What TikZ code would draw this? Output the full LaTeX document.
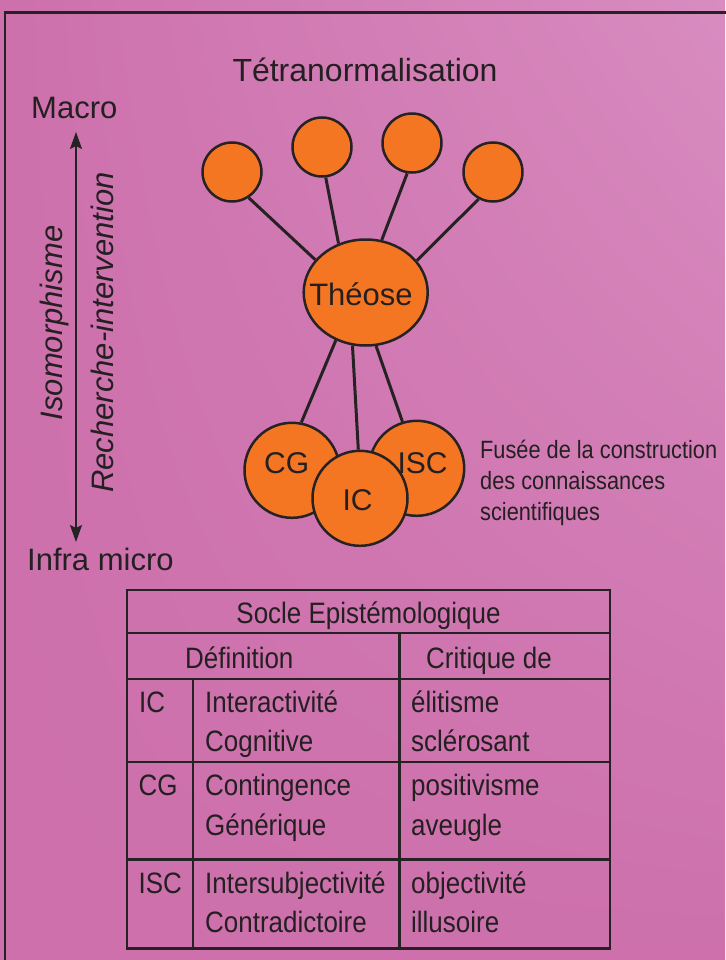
\documentclass[tikz,border=0pt]{standalone}
\usepackage{fontspec}
\setmainfont{Liberation Sans}
\newfontfamily\narrowfont[FakeStretch=0.87]{Liberation Sans}
\newfontfamily\tablefont[FakeStretch=0.88]{Liberation Sans}
\usetikzlibrary{arrows.meta,shapes.geometric,shadings}
\newcommand\fsz[1]{\fontsize{#1}{#1}\selectfont}
\definecolor{bgmain}{RGB}{205,112,172}
\definecolor{bglight}{RGB}{216,140,192}
\definecolor{orangec}{RGB}{244,118,34}
\definecolor{linec}{RGB}{38,34,36}
\definecolor{textc}{RGB}{36,32,34}
\tikzset{
  ball/.style={circle, draw=linec, fill=orangec, line width=2.5pt, inner sep=0pt, minimum size=59pt},
  bigball/.style={circle, draw=linec, fill=orangec, line width=2.5pt, inner sep=0pt, minimum size=95pt},
  conn/.style={draw=linec, line width=3pt},
  lbl/.style={inner sep=0pt, text=textc, font=\fsz{30}},
  side/.style={inner sep=0pt, text=textc, font=\fsz{31}\itshape, rotate=90, anchor=base},
  fusee/.style={inner sep=0pt, text=textc, font=\narrowfont\fsz{25}, anchor=base west},
  cell/.style={inner sep=0pt, text=textc, font=\tablefont\fsz{29.5}, anchor=base west},
  tbl/.style={draw=linec, line width=2.5pt},
}
\begin{document}
\begin{tikzpicture}[x=1pt,y=-1pt]
\useasboundingbox (0,0) rectangle (725,960);
\shade[upper left=bgmain, upper right=bglight, lower left=bgmain, lower right=bgmain] (0,0) rectangle (725,960);
\draw[linec, line width=2.2pt] (5,962) -- (5,12.5) -- (727,12.5);

% title
\node[lbl, font=\fsz{32}, anchor=base] (title) at (365,82) {Tétranormalisation};

% scale
\node[lbl, font=\fsz{31}, anchor=base west] (macro) at (31,119) {Macro};
\node[lbl, font=\fsz{31}, anchor=base west] (infra) at (27,570) {Infra micro};
\coordinate (atop) at (76,132);
\coordinate (abot) at (76,542);
\draw[linec, line width=2pt, {Stealth[length=17pt,width=12pt,inset=3pt]}-{Stealth[length=17pt,width=12pt,inset=3pt]}] (atop) -- (abot);
\node[side] (iso) at (62,323) {Isomorphisme};
\node[side] (rech) at (113,332.5) {Recherche-intervention};

% rocket
\node[ball] (t1) at (232,172) {};
\node[ball] (t2) at (322,147) {};
\node[ball] (t3) at (412,143) {};
\node[ball] (t4) at (493,172) {};
\node[ellipse, draw=linec, fill=orangec, line width=2.5pt, inner sep=0pt, minimum width=124pt, minimum height=106pt] (theose) at (365.7,292.5) {};
\node[lbl, font=\fsz{31}, anchor=base] (theoselbl) at (361,305) {Théose};

\node[bigball] (cg) at (292,470.3) {};
\node[bigball] (isc) at (416.7,468.3) {};
\node[bigball] (ic) at (360,498.3) {};
\node[lbl, anchor=base] (cglbl) at (286.7,473.3) {CG};
\node[lbl, anchor=base] (isclbl) at (422.5,473) {ISC};
\node[lbl, anchor=base] (iclbl) at (357.5,510) {IC};

\draw[conn] (t1.-57) -- (theose.147);
\draw[conn] (t2.-83) -- (theose.119);
\draw[conn] (t3.-99) -- (theose.73);
\draw[conn] (t4.-118) -- (theose.32);
\draw[conn] (theose.-122) -- (cg.79);
\draw[conn] (theose.-104.5) -- (ic.92);
\draw[conn] (theose.-79) -- (isc.107);

\node[fusee] (f1) at (480,458) {Fusée de la construction};
\node[fusee] (f2) at (480,489) {des connaissances};
\node[fusee] (f3) at (480,520) {scientifiques};

% table
\draw[tbl] (127,590) rectangle (610,948.5);
\draw[tbl] (127,633) -- (610,633);
\draw[tbl] (127,679) -- (610,679);
\draw[tbl] (127,762) -- (610,762);
\draw[tbl] (127,859.5) -- (610,859.5);
\draw[tbl] (193,679) -- (193,948.5);
\draw[tbl] (399.5,633) -- (399.5,948.5);

\node[cell, anchor=base] (socle) at (368.5,623) {Socle Epistémologique};
\node[cell] (def) at (185,668) {Définition};
\node[cell] (crit) at (426,668) {Critique de};

\node[cell] at (139,712) {IC};
\node[cell] at (205,712) {Interactivité};
\node[cell] at (205,751) {Cognitive};
\node[cell] at (411,712) {élitisme};
\node[cell] at (411,751) {sclérosant};

\node[cell] at (138.5,795) {CG};
\node[cell] at (205,795) {Contingence};
\node[cell] at (205,835) {Générique};
\node[cell] at (411,795) {positivisme};
\node[cell] at (411,835) {aveugle};

\node[cell] at (138.5,893) {ISC};
\node[cell] at (205,893) {Intersubjectivité};
\node[cell] at (205,932) {Contradictoire};
\node[cell] at (411,893) {objectivité};
\node[cell] at (411,932) {illusoire};
\end{tikzpicture}
\end{document}
